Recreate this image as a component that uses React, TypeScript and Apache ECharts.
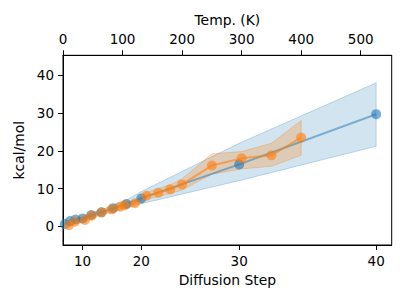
import React, { useEffect, useRef } from "react";
import * as echarts from "echarts";

// Diffusion step -> temperature mapping (T = K * step^2)
const K = 0.3287;

const blueSteps = [3, 6, 8, 10, 12, 14, 16, 18, 20, 30, 40];
const blueValues = [0.6, 1.4, 1.8, 2.1, 3.0, 3.7, 4.8, 5.9, 7.4, 16.4, 29.7];
const blueLow = [0.3, 1.0, 1.4, 1.7, 2.5, 3.1, 4.0, 5.0, 6.0, 12.1, 21.2];
const blueHigh = [0.9, 1.8, 2.2, 2.6, 3.5, 4.4, 5.6, 7.0, 9.2, 22.0, 38.0];

const orangeTemps = [10, 20, 37, 48, 65, 82, 96, 104, 121, 140, 160, 180, 200, 250, 300, 350, 400];
const orangeValues = [0.3, 1.2, 1.7, 2.8, 3.7, 4.5, 5.2, 5.6, 6.1, 8.1, 8.9, 9.8, 11.1, 16.1, 18.0, 18.8, 23.5];
const orangeLow = [-0.3, 0.6, 1.1, 2.1, 3.0, 3.7, 4.4, 4.8, 5.3, 7.2, 7.9, 8.7, 9.6, 13.8, 15.2, 15.9, 18.8];
const orangeHigh = [0.9, 1.8, 2.3, 3.5, 4.4, 5.3, 6.0, 6.4, 7.0, 9.0, 10.0, 11.0, 12.6, 19.2, 19.8, 22.0, 28.0];

const tempTicks = [0, 100, 200, 300, 400, 500];
const stepTicks = [10, 20, 30, 40];
const yTicks = [0, 10, 20, 30, 40];

const FONT = "DejaVu Sans";

function stepToT(s: number) {
  return K * s * s;
}

function bandSeries(xs: number[], lo: number[], hi: number[], fill: string, stroke: string) {
  return {
    type: "custom",
    xAxisIndex: 0,
    yAxisIndex: 0,
    data: [[0, 0]],
    silent: true,
    renderItem: (params: any, api: any) => {
      const upper = xs.map((x, i) => api.coord([x, hi[i]]));
      const lower = xs.map((x, i) => api.coord([x, lo[i]])).reverse();
      return {
        type: "polygon",
        shape: { points: upper.concat(lower) },
        style: { fill, stroke, lineWidth: 1 },
      };
    },
  };
}

export default function App() {
  const ref = useRef<HTMLDivElement>(null);
  useEffect(() => {
    if (!ref.current) return;
    const chart = echarts.init(ref.current, undefined, { renderer: "svg" });
    const blueT = blueSteps.map(stepToT);
    const axisLine = { show: true, onZero: false, lineStyle: { color: "#000", width: 1 } };
    const tickStyle = { show: true, inside: false, length: 5, lineStyle: { color: "#000", width: 1 } };
    const labelStyle = { color: "#000", fontFamily: FONT, fontSize: 13.5 };
    const nameStyle = { color: "#000", fontFamily: FONT, fontSize: 13.9 };
    chart.setOption({
      animation: false,
      backgroundColor: "#fff",
      grid: {
        left: 63,
        right: 15.3,
        top: 55.3,
        bottom: 60,
        show: true,
        borderColor: "#000",
        borderWidth: 1,
        backgroundColor: "transparent",
      },
      xAxis: [
        {
          type: "value",
          position: "top",
          min: 0,
          max: 552,
          name: "Temp. (K)",
          nameLocation: "middle",
          nameGap: 27,
          nameTextStyle: nameStyle,
          axisLine,
          axisTick: { ...tickStyle, customValues: tempTicks },
          axisLabel: { ...labelStyle, margin: 9, customValues: tempTicks },
          splitLine: { show: false },
        },
        {
          type: "value",
          position: "bottom",
          min: 0,
          max: 552,
          name: "Diffusion Step",
          nameLocation: "middle",
          nameGap: 28,
          nameTextStyle: nameStyle,
          axisLine,
          axisTick: { ...tickStyle, customValues: stepTicks.map(stepToT) },
          axisLabel: {
            ...labelStyle,
            margin: 9,
            customValues: stepTicks.map(stepToT),
            formatter: (v: number) => String(Math.round(Math.sqrt(v / K))),
          },
          splitLine: { show: false },
        },
      ],
      yAxis: {
        type: "value",
        min: -4.95,
        max: 45.3,
        name: "kcal/mol",
        nameLocation: "middle",
        nameGap: 33,
        nameRotate: 90,
        nameTextStyle: nameStyle,
        axisLine,
        axisTick: { ...tickStyle, customValues: yTicks },
        axisLabel: { ...labelStyle, margin: 9, customValues: yTicks },
        splitLine: { show: false },
      },
      series: [
        bandSeries(blueT, blueLow, blueHigh, "rgba(31,119,180,0.2)", "rgba(31,119,180,0.25)"),
        {
          type: "line",
          xAxisIndex: 0,
          data: blueT.map((t, i) => [t, blueValues[i]]),
          symbol: "circle",
          symbolSize: 10,
          showSymbol: true,
          itemStyle: { color: "#1f77b4", opacity: 0.6 },
          lineStyle: { color: "#1f77b4", width: 2, opacity: 0.5 },
        },
        bandSeries(orangeTemps, orangeLow, orangeHigh, "rgba(255,127,14,0.25)", "rgba(255,127,14,0.3)"),
        {
          type: "line",
          xAxisIndex: 0,
          data: orangeTemps.map((t, i) => [t, orangeValues[i]]),
          symbol: "circle",
          symbolSize: 10,
          showSymbol: true,
          itemStyle: { color: "#ff7f0e", opacity: 0.6 },
          lineStyle: { color: "#ff7f0e", width: 2, opacity: 0.6 },
        },
      ],
    });
    return () => chart.dispose();
  }, []);
  return (
    <div
      ref={ref}
      style={{ position: "fixed", left: 0, top: 0, width: 407, height: 305 }}
    />
  );
}
